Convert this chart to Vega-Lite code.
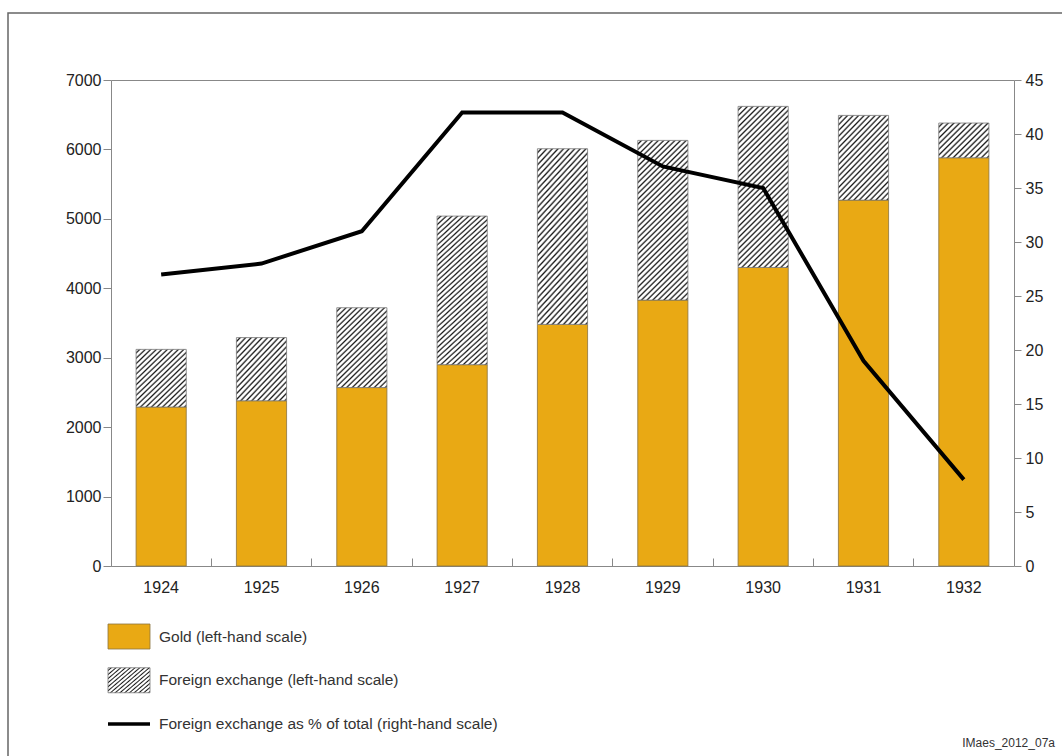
{
  "$schema": "https://vega.github.io/schema/vega-lite/v6.json",
  "width": 1054,
  "height": 743,
  "autosize": "none",
  "padding": {"left": 8, "top": 13, "right": 0, "bottom": 0},
  "background": "white",
  "title": {"text": "IMaes_2012_07a", "orient": "bottom", "anchor": "end", "offset": -18, "dx": -7, "fontSize": 12, "fontWeight": "normal", "color": "#333", "font": "Liberation Sans"},
  "config": {
    "view": {"stroke": "#666", "strokeWidth": 1.5, "strokeDash": [1054, 1797, 743, 1]},
    "axis": {"labelFont": "Liberation Sans", "labelFontSize": 16, "labelColor": "#222", "domainColor": "#888", "tickColor": "#888", "grid": false, "title": null}
  },
  "datasets": {
    "bars": [
      {"year": 1924, "gold": 2290, "total": 3120, "pct": 27},
      {"year": 1925, "gold": 2380, "total": 3290, "pct": 28},
      {"year": 1926, "gold": 2570, "total": 3720, "pct": 31},
      {"year": 1927, "gold": 2900, "total": 5040, "pct": 42},
      {"year": 1928, "gold": 3480, "total": 6010, "pct": 42},
      {"year": 1929, "gold": 3830, "total": 6130, "pct": 37},
      {"year": 1930, "gold": 4300, "total": 6620, "pct": 35},
      {"year": 1931, "gold": 5270, "total": 6490, "pct": 19},
      {"year": 1932, "gold": 5880, "total": 6380, "pct": 8}
    ],
    "legend": [
      {"key": "gold", "label": "Gold (left-hand scale)"},
      {"key": "fx", "label": "Foreign exchange (left-hand scale)"},
      {"key": "pct", "label": "Foreign exchange as % of total (right-hand scale)"}
    ]
  },
  "layer": [
    {
      "data": {"name": "bars"},
      "mark": {"type": "bar", "width": {"band": 0.5}, "fill": "#E9A914", "stroke": "#8a7440", "strokeWidth": 0.8},
      "encoding": {
        "x": {"field": "year", "type": "ordinal", "scale": {"type": "band", "range": [103, 1006], "paddingInner": 0, "paddingOuter": 0},
              "axis": {"orient": "bottom", "offset": -190, "bandPosition": 0, "tickSize": -8, "labelPadding": 21, "labelAngle": 0, "labelFontSize": 16}},
        "y": {"field": "gold", "type": "quantitative", "scale": {"domain": [0, 7000], "range": [553, 67], "nice": false, "zero": true},
              "axis": {"orient": "left", "offset": -103, "format": "d", "values": [0, 1000, 2000, 3000, 4000, 5000, 6000, 7000], "tickSize": 8, "labelPadding": 2, "labelFontSize": 16}}
      }
    },
    {
      "data": {"name": "bars"},
      "mark": {"type": "bar", "width": {"band": 0.5}, "stroke": "#777", "strokeWidth": 0.8},
      "encoding": {
        "x": {"field": "year", "type": "ordinal", "scale": {"type": "band", "range": [103, 1006], "paddingInner": 0, "paddingOuter": 0}, "axis": null},
        "y": {"field": "total", "type": "quantitative", "scale": {"domain": [0, 7000], "range": [553, 67], "nice": false, "zero": true}, "axis": null},
        "y2": {"field": "gold"},
        "fill": {
          "condition": [
            {"test": "datum.year == 1924 || datum.year == 1925", "value": {"gradient": "linear", "x1": 0, "y1": 0, "x2": 0.9037, "y2": 1.0808, "stops": [
              {"offset": 0, "color": "#fff"}, {"offset": 0.0175, "color": "#fff"}, {"offset": 0.035, "color": "#1a1a1a"},
              {"offset": 0.05, "color": "#fff"}, {"offset": 0.0675, "color": "#fff"}, {"offset": 0.085, "color": "#1a1a1a"},
              {"offset": 0.1, "color": "#fff"}, {"offset": 0.1175, "color": "#fff"}, {"offset": 0.135, "color": "#1a1a1a"},
              {"offset": 0.15, "color": "#fff"}, {"offset": 0.1675, "color": "#fff"}, {"offset": 0.185, "color": "#1a1a1a"},
              {"offset": 0.2, "color": "#fff"}, {"offset": 0.2175, "color": "#fff"}, {"offset": 0.235, "color": "#1a1a1a"},
              {"offset": 0.25, "color": "#fff"}, {"offset": 0.2675, "color": "#fff"}, {"offset": 0.285, "color": "#1a1a1a"},
              {"offset": 0.3, "color": "#fff"}, {"offset": 0.3175, "color": "#fff"}, {"offset": 0.335, "color": "#1a1a1a"},
              {"offset": 0.35, "color": "#fff"}, {"offset": 0.3675, "color": "#fff"}, {"offset": 0.385, "color": "#1a1a1a"},
              {"offset": 0.4, "color": "#fff"}, {"offset": 0.4175, "color": "#fff"}, {"offset": 0.435, "color": "#1a1a1a"},
              {"offset": 0.45, "color": "#fff"}, {"offset": 0.4675, "color": "#fff"}, {"offset": 0.485, "color": "#1a1a1a"},
              {"offset": 0.5, "color": "#fff"}, {"offset": 0.5175, "color": "#fff"}, {"offset": 0.535, "color": "#1a1a1a"},
              {"offset": 0.55, "color": "#fff"}, {"offset": 0.5675, "color": "#fff"}, {"offset": 0.585, "color": "#1a1a1a"},
              {"offset": 0.6, "color": "#fff"}, {"offset": 0.6175, "color": "#fff"}, {"offset": 0.635, "color": "#1a1a1a"},
              {"offset": 0.65, "color": "#fff"}, {"offset": 0.6675, "color": "#fff"}, {"offset": 0.685, "color": "#1a1a1a"},
              {"offset": 0.7, "color": "#fff"}, {"offset": 0.7175, "color": "#fff"}, {"offset": 0.735, "color": "#1a1a1a"},
              {"offset": 0.75, "color": "#fff"}, {"offset": 0.7675, "color": "#fff"}, {"offset": 0.785, "color": "#1a1a1a"},
              {"offset": 0.8, "color": "#fff"}, {"offset": 0.8175, "color": "#fff"}, {"offset": 0.835, "color": "#1a1a1a"},
              {"offset": 0.85, "color": "#fff"}, {"offset": 0.8675, "color": "#fff"}, {"offset": 0.885, "color": "#1a1a1a"},
              {"offset": 0.9, "color": "#fff"}, {"offset": 0.9175, "color": "#fff"}, {"offset": 0.935, "color": "#1a1a1a"},
              {"offset": 0.95, "color": "#fff"}, {"offset": 0.9675, "color": "#fff"}, {"offset": 0.985, "color": "#1a1a1a"},
              {"offset": 1, "color": "#fff"}]}},
            {"test": "datum.year == 1926 || datum.year == 1931", "value": {"gradient": "linear", "x1": 0, "y1": 0, "x2": 0.7175, "y2": 1.1725, "stops": [
              {"offset": 0, "color": "#fff"}, {"offset": 0.0146, "color": "#fff"}, {"offset": 0.0292, "color": "#1a1a1a"},
              {"offset": 0.0417, "color": "#fff"}, {"offset": 0.0563, "color": "#fff"}, {"offset": 0.0708, "color": "#1a1a1a"},
              {"offset": 0.0833, "color": "#fff"}, {"offset": 0.0979, "color": "#fff"}, {"offset": 0.1125, "color": "#1a1a1a"},
              {"offset": 0.125, "color": "#fff"}, {"offset": 0.1396, "color": "#fff"}, {"offset": 0.1542, "color": "#1a1a1a"},
              {"offset": 0.1667, "color": "#fff"}, {"offset": 0.1813, "color": "#fff"}, {"offset": 0.1958, "color": "#1a1a1a"},
              {"offset": 0.2083, "color": "#fff"}, {"offset": 0.2229, "color": "#fff"}, {"offset": 0.2375, "color": "#1a1a1a"},
              {"offset": 0.25, "color": "#fff"}, {"offset": 0.2646, "color": "#fff"}, {"offset": 0.2792, "color": "#1a1a1a"},
              {"offset": 0.2917, "color": "#fff"}, {"offset": 0.3063, "color": "#fff"}, {"offset": 0.3208, "color": "#1a1a1a"},
              {"offset": 0.3333, "color": "#fff"}, {"offset": 0.3479, "color": "#fff"}, {"offset": 0.3625, "color": "#1a1a1a"},
              {"offset": 0.375, "color": "#fff"}, {"offset": 0.3896, "color": "#fff"}, {"offset": 0.4042, "color": "#1a1a1a"},
              {"offset": 0.4167, "color": "#fff"}, {"offset": 0.4313, "color": "#fff"}, {"offset": 0.4458, "color": "#1a1a1a"},
              {"offset": 0.4583, "color": "#fff"}, {"offset": 0.4729, "color": "#fff"}, {"offset": 0.4875, "color": "#1a1a1a"},
              {"offset": 0.5, "color": "#fff"}, {"offset": 0.5146, "color": "#fff"}, {"offset": 0.5292, "color": "#1a1a1a"},
              {"offset": 0.5417, "color": "#fff"}, {"offset": 0.5563, "color": "#fff"}, {"offset": 0.5708, "color": "#1a1a1a"},
              {"offset": 0.5833, "color": "#fff"}, {"offset": 0.5979, "color": "#fff"}, {"offset": 0.6125, "color": "#1a1a1a"},
              {"offset": 0.625, "color": "#fff"}, {"offset": 0.6396, "color": "#fff"}, {"offset": 0.6542, "color": "#1a1a1a"},
              {"offset": 0.6667, "color": "#fff"}, {"offset": 0.6813, "color": "#fff"}, {"offset": 0.6958, "color": "#1a1a1a"},
              {"offset": 0.7083, "color": "#fff"}, {"offset": 0.7229, "color": "#fff"}, {"offset": 0.7375, "color": "#1a1a1a"},
              {"offset": 0.75, "color": "#fff"}, {"offset": 0.7646, "color": "#fff"}, {"offset": 0.7792, "color": "#1a1a1a"},
              {"offset": 0.7917, "color": "#fff"}, {"offset": 0.8063, "color": "#fff"}, {"offset": 0.8208, "color": "#1a1a1a"},
              {"offset": 0.8333, "color": "#fff"}, {"offset": 0.8479, "color": "#fff"}, {"offset": 0.8625, "color": "#1a1a1a"},
              {"offset": 0.875, "color": "#fff"}, {"offset": 0.8896, "color": "#fff"}, {"offset": 0.9042, "color": "#1a1a1a"},
              {"offset": 0.9167, "color": "#fff"}, {"offset": 0.9313, "color": "#fff"}, {"offset": 0.9458, "color": "#1a1a1a"},
              {"offset": 0.9583, "color": "#fff"}, {"offset": 0.9729, "color": "#fff"}, {"offset": 0.9875, "color": "#1a1a1a"},
              {"offset": 1, "color": "#fff"}]}},
            {"test": "datum.year == 1932", "value": {"gradient": "linear", "x1": 0, "y1": 0, "x2": 1.1419, "y2": 0.7966, "stops": [
              {"offset": 0, "color": "#fff"}, {"offset": 0.0233, "color": "#fff"}, {"offset": 0.0467, "color": "#1a1a1a"},
              {"offset": 0.0667, "color": "#fff"}, {"offset": 0.09, "color": "#fff"}, {"offset": 0.1133, "color": "#1a1a1a"},
              {"offset": 0.1333, "color": "#fff"}, {"offset": 0.1567, "color": "#fff"}, {"offset": 0.18, "color": "#1a1a1a"},
              {"offset": 0.2, "color": "#fff"}, {"offset": 0.2233, "color": "#fff"}, {"offset": 0.2467, "color": "#1a1a1a"},
              {"offset": 0.2667, "color": "#fff"}, {"offset": 0.29, "color": "#fff"}, {"offset": 0.3133, "color": "#1a1a1a"},
              {"offset": 0.3333, "color": "#fff"}, {"offset": 0.3567, "color": "#fff"}, {"offset": 0.38, "color": "#1a1a1a"},
              {"offset": 0.4, "color": "#fff"}, {"offset": 0.4233, "color": "#fff"}, {"offset": 0.4467, "color": "#1a1a1a"},
              {"offset": 0.4667, "color": "#fff"}, {"offset": 0.49, "color": "#fff"}, {"offset": 0.5133, "color": "#1a1a1a"},
              {"offset": 0.5333, "color": "#fff"}, {"offset": 0.5567, "color": "#fff"}, {"offset": 0.58, "color": "#1a1a1a"},
              {"offset": 0.6, "color": "#fff"}, {"offset": 0.6233, "color": "#fff"}, {"offset": 0.6467, "color": "#1a1a1a"},
              {"offset": 0.6667, "color": "#fff"}, {"offset": 0.69, "color": "#fff"}, {"offset": 0.7133, "color": "#1a1a1a"},
              {"offset": 0.7333, "color": "#fff"}, {"offset": 0.7567, "color": "#fff"}, {"offset": 0.78, "color": "#1a1a1a"},
              {"offset": 0.8, "color": "#fff"}, {"offset": 0.8233, "color": "#fff"}, {"offset": 0.8467, "color": "#1a1a1a"},
              {"offset": 0.8667, "color": "#fff"}, {"offset": 0.89, "color": "#fff"}, {"offset": 0.9133, "color": "#1a1a1a"},
              {"offset": 0.9333, "color": "#fff"}, {"offset": 0.9567, "color": "#fff"}, {"offset": 0.98, "color": "#1a1a1a"},
              {"offset": 1, "color": "#fff"}]}}
          ],
          "value": {"gradient": "linear", "x1": 0, "y1": 0, "x2": 0.3701, "y2": 1.195, "stops": [
            {"offset": 0, "color": "#fff"}, {"offset": 0.0092, "color": "#fff"}, {"offset": 0.0184, "color": "#1a1a1a"},
            {"offset": 0.0263, "color": "#fff"}, {"offset": 0.0355, "color": "#fff"}, {"offset": 0.0447, "color": "#1a1a1a"},
            {"offset": 0.0526, "color": "#fff"}, {"offset": 0.0618, "color": "#fff"}, {"offset": 0.071, "color": "#1a1a1a"},
            {"offset": 0.0789, "color": "#fff"}, {"offset": 0.0881, "color": "#fff"}, {"offset": 0.0973, "color": "#1a1a1a"},
            {"offset": 0.1053, "color": "#fff"}, {"offset": 0.1145, "color": "#fff"}, {"offset": 0.1237, "color": "#1a1a1a"},
            {"offset": 0.1316, "color": "#fff"}, {"offset": 0.1408, "color": "#fff"}, {"offset": 0.15, "color": "#1a1a1a"},
            {"offset": 0.1579, "color": "#fff"}, {"offset": 0.1671, "color": "#fff"}, {"offset": 0.1763, "color": "#1a1a1a"},
            {"offset": 0.1842, "color": "#fff"}, {"offset": 0.1934, "color": "#fff"}, {"offset": 0.2026, "color": "#1a1a1a"},
            {"offset": 0.2105, "color": "#fff"}, {"offset": 0.2197, "color": "#fff"}, {"offset": 0.2289, "color": "#1a1a1a"},
            {"offset": 0.2368, "color": "#fff"}, {"offset": 0.246, "color": "#fff"}, {"offset": 0.2552, "color": "#1a1a1a"},
            {"offset": 0.2632, "color": "#fff"}, {"offset": 0.2724, "color": "#fff"}, {"offset": 0.2816, "color": "#1a1a1a"},
            {"offset": 0.2895, "color": "#fff"}, {"offset": 0.2987, "color": "#fff"}, {"offset": 0.3079, "color": "#1a1a1a"},
            {"offset": 0.3158, "color": "#fff"}, {"offset": 0.325, "color": "#fff"}, {"offset": 0.3342, "color": "#1a1a1a"},
            {"offset": 0.3421, "color": "#fff"}, {"offset": 0.3513, "color": "#fff"}, {"offset": 0.3605, "color": "#1a1a1a"},
            {"offset": 0.3684, "color": "#fff"}, {"offset": 0.3776, "color": "#fff"}, {"offset": 0.3868, "color": "#1a1a1a"},
            {"offset": 0.3947, "color": "#fff"}, {"offset": 0.4039, "color": "#fff"}, {"offset": 0.4131, "color": "#1a1a1a"},
            {"offset": 0.4211, "color": "#fff"}, {"offset": 0.4303, "color": "#fff"}, {"offset": 0.4395, "color": "#1a1a1a"},
            {"offset": 0.4474, "color": "#fff"}, {"offset": 0.4566, "color": "#fff"}, {"offset": 0.4658, "color": "#1a1a1a"},
            {"offset": 0.4737, "color": "#fff"}, {"offset": 0.4829, "color": "#fff"}, {"offset": 0.4921, "color": "#1a1a1a"},
            {"offset": 0.5, "color": "#fff"}, {"offset": 0.5092, "color": "#fff"}, {"offset": 0.5184, "color": "#1a1a1a"},
            {"offset": 0.5263, "color": "#fff"}, {"offset": 0.5355, "color": "#fff"}, {"offset": 0.5447, "color": "#1a1a1a"},
            {"offset": 0.5526, "color": "#fff"}, {"offset": 0.5618, "color": "#fff"}, {"offset": 0.571, "color": "#1a1a1a"},
            {"offset": 0.5789, "color": "#fff"}, {"offset": 0.5881, "color": "#fff"}, {"offset": 0.5973, "color": "#1a1a1a"},
            {"offset": 0.6053, "color": "#fff"}, {"offset": 0.6145, "color": "#fff"}, {"offset": 0.6237, "color": "#1a1a1a"},
            {"offset": 0.6316, "color": "#fff"}, {"offset": 0.6408, "color": "#fff"}, {"offset": 0.65, "color": "#1a1a1a"},
            {"offset": 0.6579, "color": "#fff"}, {"offset": 0.6671, "color": "#fff"}, {"offset": 0.6763, "color": "#1a1a1a"},
            {"offset": 0.6842, "color": "#fff"}, {"offset": 0.6934, "color": "#fff"}, {"offset": 0.7026, "color": "#1a1a1a"},
            {"offset": 0.7105, "color": "#fff"}, {"offset": 0.7197, "color": "#fff"}, {"offset": 0.7289, "color": "#1a1a1a"},
            {"offset": 0.7368, "color": "#fff"}, {"offset": 0.746, "color": "#fff"}, {"offset": 0.7552, "color": "#1a1a1a"},
            {"offset": 0.7632, "color": "#fff"}, {"offset": 0.7724, "color": "#fff"}, {"offset": 0.7816, "color": "#1a1a1a"},
            {"offset": 0.7895, "color": "#fff"}, {"offset": 0.7987, "color": "#fff"}, {"offset": 0.8079, "color": "#1a1a1a"},
            {"offset": 0.8158, "color": "#fff"}, {"offset": 0.825, "color": "#fff"}, {"offset": 0.8342, "color": "#1a1a1a"},
            {"offset": 0.8421, "color": "#fff"}, {"offset": 0.8513, "color": "#fff"}, {"offset": 0.8605, "color": "#1a1a1a"},
            {"offset": 0.8684, "color": "#fff"}, {"offset": 0.8776, "color": "#fff"}, {"offset": 0.8868, "color": "#1a1a1a"},
            {"offset": 0.8947, "color": "#fff"}, {"offset": 0.9039, "color": "#fff"}, {"offset": 0.9131, "color": "#1a1a1a"},
            {"offset": 0.9211, "color": "#fff"}, {"offset": 0.9303, "color": "#fff"}, {"offset": 0.9395, "color": "#1a1a1a"},
            {"offset": 0.9474, "color": "#fff"}, {"offset": 0.9566, "color": "#fff"}, {"offset": 0.9658, "color": "#1a1a1a"},
            {"offset": 0.9737, "color": "#fff"}, {"offset": 0.9829, "color": "#fff"}, {"offset": 0.9921, "color": "#1a1a1a"},
            {"offset": 1, "color": "#fff"}]}
        }
      }
    },
    {
      "data": {"name": "bars"},
      "mark": {"type": "line", "color": "#000", "strokeWidth": 4},
      "encoding": {
        "x": {"field": "year", "type": "ordinal", "scale": {"type": "band", "range": [103, 1006], "paddingInner": 0, "paddingOuter": 0},
              "axis": {"orient": "top", "offset": -67, "labels": false, "ticks": false, "domain": true}},
        "y": {"field": "pct", "type": "quantitative", "scale": {"domain": [0, 45], "range": [553, 67], "nice": false, "zero": true},
              "axis": {"orient": "right", "offset": -48, "values": [0, 5, 10, 15, 20, 25, 30, 35, 40, 45], "tickSize": 7, "labelPadding": 4, "labelFontSize": 16}}
      }
    },
    {
      "data": {"name": "legend"},
      "transform": [{"filter": "datum.key != 'pct'"}],
      "mark": {"type": "bar", "height": 25, "strokeWidth": 0.8},
      "encoding": {
        "x": {"datum": 0, "type": "quantitative", "scale": {"domain": [0, 1], "range": [100, 142], "nice": false, "zero": false}, "axis": null},
        "x2": {"datum": 1},
        "y": {"field": "key", "type": "nominal", "scale": {"type": "point", "domain": ["gold", "fx", "pct"], "range": [623.5, 711], "padding": 0}, "axis": null},
        "fill": {"condition": {"test": "datum.key == 'fx'", "value": {"gradient": "linear", "x1": 0, "y1": 0, "x2": 1.1419, "y2": 0.7966, "stops": [
              {"offset": 0, "color": "#fff"}, {"offset": 0.0233, "color": "#fff"}, {"offset": 0.0467, "color": "#1a1a1a"},
              {"offset": 0.0667, "color": "#fff"}, {"offset": 0.09, "color": "#fff"}, {"offset": 0.1133, "color": "#1a1a1a"},
              {"offset": 0.1333, "color": "#fff"}, {"offset": 0.1567, "color": "#fff"}, {"offset": 0.18, "color": "#1a1a1a"},
              {"offset": 0.2, "color": "#fff"}, {"offset": 0.2233, "color": "#fff"}, {"offset": 0.2467, "color": "#1a1a1a"},
              {"offset": 0.2667, "color": "#fff"}, {"offset": 0.29, "color": "#fff"}, {"offset": 0.3133, "color": "#1a1a1a"},
              {"offset": 0.3333, "color": "#fff"}, {"offset": 0.3567, "color": "#fff"}, {"offset": 0.38, "color": "#1a1a1a"},
              {"offset": 0.4, "color": "#fff"}, {"offset": 0.4233, "color": "#fff"}, {"offset": 0.4467, "color": "#1a1a1a"},
              {"offset": 0.4667, "color": "#fff"}, {"offset": 0.49, "color": "#fff"}, {"offset": 0.5133, "color": "#1a1a1a"},
              {"offset": 0.5333, "color": "#fff"}, {"offset": 0.5567, "color": "#fff"}, {"offset": 0.58, "color": "#1a1a1a"},
              {"offset": 0.6, "color": "#fff"}, {"offset": 0.6233, "color": "#fff"}, {"offset": 0.6467, "color": "#1a1a1a"},
              {"offset": 0.6667, "color": "#fff"}, {"offset": 0.69, "color": "#fff"}, {"offset": 0.7133, "color": "#1a1a1a"},
              {"offset": 0.7333, "color": "#fff"}, {"offset": 0.7567, "color": "#fff"}, {"offset": 0.78, "color": "#1a1a1a"},
              {"offset": 0.8, "color": "#fff"}, {"offset": 0.8233, "color": "#fff"}, {"offset": 0.8467, "color": "#1a1a1a"},
              {"offset": 0.8667, "color": "#fff"}, {"offset": 0.89, "color": "#fff"}, {"offset": 0.9133, "color": "#1a1a1a"},
              {"offset": 0.9333, "color": "#fff"}, {"offset": 0.9567, "color": "#fff"}, {"offset": 0.98, "color": "#1a1a1a"},
              {"offset": 1, "color": "#fff"}]}}, "value": "#E9A914"},
        "stroke": {"condition": {"test": "datum.key == 'fx'", "value": "#777"}, "value": "#8a7440"}
      }
    },
    {
      "data": {"name": "legend"},
      "transform": [{"filter": "datum.key == 'pct'"}],
      "mark": {"type": "rule", "color": "#000", "strokeWidth": 3.5},
      "encoding": {
        "x": {"datum": 0, "type": "quantitative", "scale": {"domain": [0, 1], "range": [100, 142], "nice": false, "zero": false}, "axis": null},
        "x2": {"datum": 1},
        "y": {"field": "key", "type": "nominal", "scale": {"type": "point", "domain": ["gold", "fx", "pct"], "range": [623.5, 711], "padding": 0}, "axis": null}
      }
    },
    {
      "data": {"name": "legend"},
      "mark": {"type": "text", "align": "left", "baseline": "middle", "dx": 9, "fontSize": 15.5, "font": "Liberation Sans", "color": "#333"},
      "encoding": {
        "x": {"datum": 1, "type": "quantitative", "scale": {"domain": [0, 1], "range": [100, 142], "nice": false, "zero": false}, "axis": null},
        "y": {"field": "key", "type": "nominal", "scale": {"type": "point", "domain": ["gold", "fx", "pct"], "range": [623.5, 711], "padding": 0}, "axis": null},
        "text": {"field": "label"}
      }
    }
  ],
  "resolve": {"scale": {"x": "independent", "y": "independent"}}
}
